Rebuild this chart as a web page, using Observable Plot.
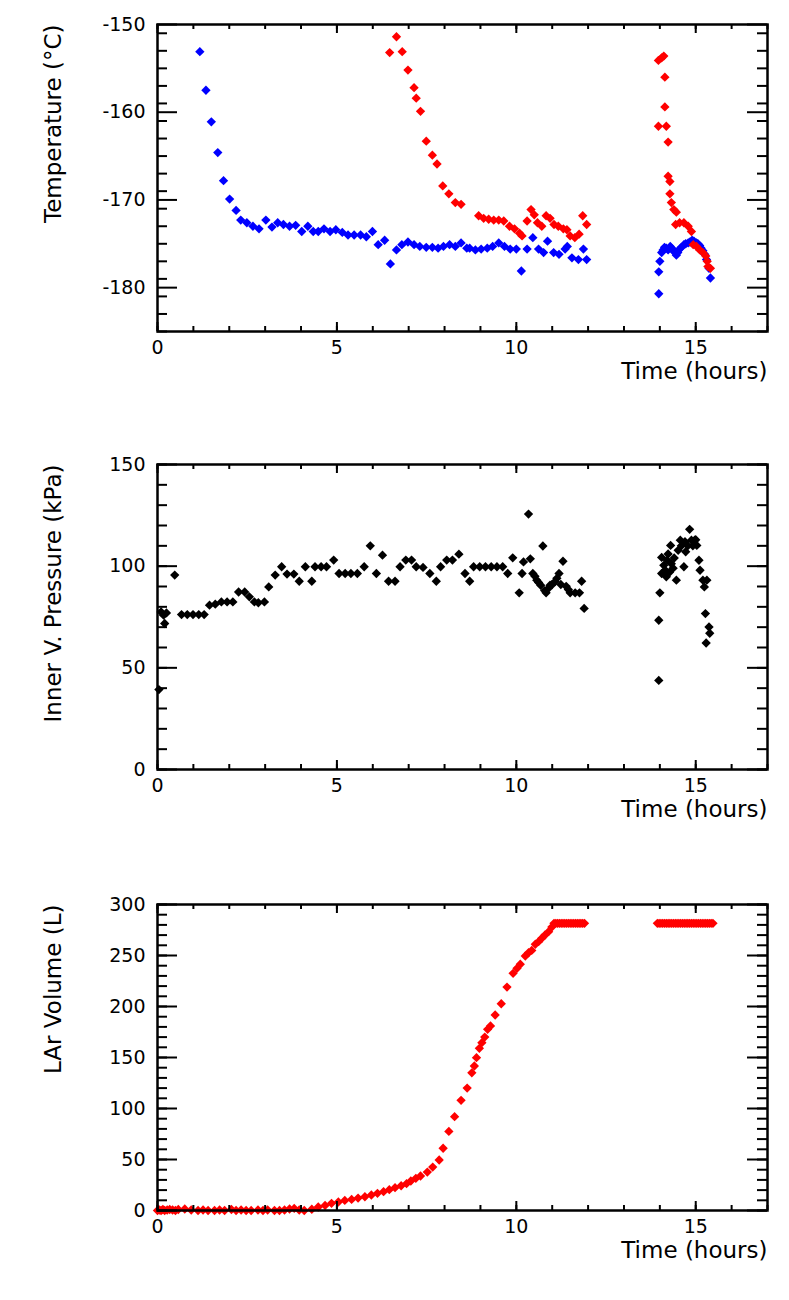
<!DOCTYPE html>
<html><head><meta charset="utf-8">
<script src="https://cdn.jsdelivr.net/npm/d3@7"></script>
<script src="https://cdn.jsdelivr.net/npm/@observablehq/plot@0.6"></script>
<style>
body{margin:0;background:#fff}
#chart svg{display:block}
</style>
</head><body><div id="chart"></div>
<script>
// ---------- Panel 1: temperature ----------
const blueTime = [1.18,1.35,1.50,1.68,1.84,2.01,2.19,2.32,2.49,2.66,2.83,3.02,3.19,3.35,3.51,3.68,3.85,4.02,4.19,4.34,4.48,4.64,4.81,4.97,5.15,5.31,5.48,5.66,5.82,5.99,6.15,6.33,6.49,6.66,6.81,6.98,7.15,7.31,7.49,7.66,7.82,7.97,8.14,8.30,8.46,8.62,8.70,8.86,9.02,9.19,9.34,9.51,9.67,9.83,10.0,10.14,10.30,10.46,10.62,10.76,10.87,11.04,11.19,11.36,11.42,11.55,11.73,11.87,11.96,
  13.97,13.97,14.0,14.05,14.09,14.13,14.18,14.23,14.29,14.33,14.37,14.42,14.46,14.5,14.55,14.6,14.67,14.72,14.79,14.84,14.90,14.95,15.02,15.06,15.11,15.15,15.20,15.25,15.30,15.37,15.41];
const blueTemp = [-153.1,-157.5,-161.1,-164.6,-167.8,-169.9,-171.2,-172.3,-172.6,-173.0,-173.3,-172.3,-173.1,-172.6,-172.8,-173.0,-172.9,-173.6,-173.0,-173.6,-173.6,-173.3,-173.6,-173.4,-173.7,-174.0,-174.0,-174.0,-174.2,-173.6,-175.1,-174.6,-177.3,-175.7,-175.1,-174.8,-175.1,-175.3,-175.4,-175.4,-175.5,-175.3,-175.1,-175.3,-174.9,-175.5,-175.5,-175.7,-175.6,-175.5,-175.3,-174.9,-175.3,-175.6,-175.6,-178.1,-175.6,-174.3,-175.6,-176.0,-174.7,-176.0,-176.2,-175.6,-175.3,-176.6,-176.8,-175.6,-176.8,
  -180.7,-178.2,-177.0,-176.0,-175.7,-175.4,-175.5,-175.7,-175.3,-175.5,-175.8,-175.9,-176.3,-176.0,-175.6,-175.4,-175.1,-175.0,-174.9,-174.8,-174.6,-174.7,-174.9,-175.0,-175.2,-175.5,-175.8,-176.2,-176.8,-177.8,-178.9];
const redTime = [6.47,6.66,6.82,6.98,7.15,7.21,7.33,7.49,7.66,7.79,7.95,8.12,8.30,8.46,8.95,9.09,9.23,9.37,9.51,9.65,9.81,9.95,10.09,10.16,10.30,10.41,10.50,10.59,10.71,10.83,10.94,11.05,11.17,11.31,11.41,11.50,11.63,11.75,11.85,11.96,
  13.96,14.05,14.11,14.14,14.14,13.96,14.18,14.23,14.23,14.28,14.28,14.32,14.39,14.46,14.44,14.55,14.67,14.79,14.88,14.93,15.02,15.11,15.20,15.28,15.32,15.34,15.41];
const redTemp = [-153.2,-151.4,-153.1,-155.2,-157.2,-158.4,-159.9,-163.3,-164.9,-165.9,-168.4,-169.3,-170.3,-170.5,-171.8,-172.1,-172.2,-172.3,-172.3,-172.4,-173.0,-173.3,-173.8,-174.1,-172.4,-171.1,-171.7,-172.6,-173.0,-171.8,-172.1,-172.8,-173.0,-173.3,-173.4,-174.1,-174.3,-173.9,-171.8,-172.8,
  -154.1,-153.8,-153.6,-156.0,-159.4,-161.6,-161.6,-163.4,-167.3,-167.9,-169.3,-170.3,-171.1,-171.4,-172.8,-172.6,-172.6,-173.0,-173.6,-175.1,-175.3,-175.7,-176.0,-176.4,-177.0,-177.6,-177.8];
const tempTicks = [-150,-160,-170,-180];

// ---------- Panel 2: inner vessel pressure ----------
const pressTime = [0.04,0.10,0.17,0.20,0.25,0.48,0.67,0.83,0.99,1.15,1.30,1.45,1.61,1.78,1.94,2.10,2.26,2.43,2.56,2.70,2.81,2.98,3.10,3.28,3.46,3.61,3.80,3.95,4.12,4.30,4.39,4.56,4.71,4.91,5.06,5.23,5.39,5.57,5.76,5.93,6.10,6.27,6.44,6.62,6.76,6.92,7.08,7.21,7.40,7.59,7.77,7.89,8.06,8.22,8.40,8.57,8.70,8.81,8.98,9.14,9.30,9.46,9.62,9.76,9.90,10.08,10.16,10.20,10.34,10.39,10.46,10.52,10.57,10.62,10.68,10.74,10.79,10.83,10.89,10.94,11.0,11.08,11.13,11.19,11.24,11.30,11.39,11.45,11.50,11.64,11.76,11.82,11.89,
  13.97,13.97,14.0,14.05,14.05,14.11,14.15,14.18,14.2,14.23,14.27,14.30,14.32,14.37,14.4,14.46,14.51,14.57,14.6,14.67,14.7,14.72,14.78,14.83,14.88,14.92,14.97,15.0,15.03,15.09,15.12,15.20,15.24,15.27,15.29,15.31,15.37,15.39];
const pressVal = [39.3,77.5,75.9,71.8,77.0,95.6,76.2,76.2,76.2,76.2,76.2,80.8,81.3,82.4,82.4,82.4,87.3,87.3,84.9,82.4,82.0,82.4,89.8,95.6,99.7,96.1,96.1,92.6,99.7,92.6,99.7,99.7,99.7,103.0,96.4,96.4,96.4,96.4,99.7,110.0,96.4,105.4,92.6,92.6,99.7,103.0,103.0,99.7,99.4,96.4,92.6,99.7,103.0,103.0,105.9,96.4,92.6,99.7,99.7,99.7,99.7,99.7,99.7,96.4,104.1,86.9,96.4,102.1,125.6,103.6,96.4,95.0,93.1,92.0,90.6,109.9,88.0,86.9,89.0,90.6,91.0,92.4,94.0,96.4,91.0,102.4,90.1,88.5,86.9,86.9,86.9,92.6,79.2,
  43.8,73.4,86.9,96.4,104.3,100.4,98.0,94.8,103.0,106.0,97.0,110.2,101.2,99.0,104.0,93.1,107.8,112.8,110.0,99.7,112.0,107.1,110.0,118.1,112.8,110.0,112.8,113.0,110.2,102.9,98.0,93.1,89.8,76.7,62.2,93.1,70.1,67.0];
const pressTicks = [0,50,100,150];

// ---------- Panel 3: LAr volume ----------
const volTime = [0.0,0.05,0.1,0.15,0.2,0.27,0.34,0.42,0.5,0.58,0.76,0.94,1.13,1.27,1.41,1.59,1.73,1.87,2.06,2.19,2.33,2.47,2.61,2.80,2.94,3.07,3.26,3.40,3.54,3.68,3.81,3.95,4.09,
  4.30,4.48,4.67,4.85,5.04,5.22,5.41,5.59,5.78,5.96,6.13,6.30,6.46,6.62,6.79,6.94,7.06,7.20,7.33,7.52,7.67,7.85,7.96,8.12,8.28,8.46,8.63,8.76,8.83,8.89,8.97,9.04,9.12,9.20,9.28,9.41,9.58,9.74,9.91,10.02,10.11,10.25,10.34,10.43,10.53,10.62,10.71,10.80,10.90,10.99,11.05,
  11.10,11.15,11.20,11.25,11.30,11.35,11.40,11.45,11.50,11.55,11.60,11.65,11.70,11.75,11.80,11.85,11.90,
  13.93,13.98,14.03,14.08,14.13,14.18,14.23,14.28,14.33,14.38,14.43,14.48,14.53,14.58,14.63,14.68,14.73,14.78,14.83,14.88,14.93,14.98,15.03,15.08,15.13,15.18,15.23,15.28,15.33,15.38,15.43,15.48];
const volVal = [0,0.5,0,1,0,0.5,1,0.5,0,1,1.5,0.5,0,0.5,0,0,0.5,0,1,0,0.5,0,0,0.5,0,0.5,0,0,0.5,1.5,2,0.5,0,
  1.2,3.4,5.0,7.0,8.3,9.9,10.9,12.2,13.5,15.2,16.8,18.5,20.4,22.4,24.3,26.3,28.9,31.5,33.8,37.7,42.6,49.5,61.0,77.5,92.0,108.0,120.0,135.0,141.7,149.8,159.0,164.5,170.0,177.6,181.0,191.7,202.7,219.0,232.5,237.4,241.4,249.5,252.7,255.0,261.0,263.6,266.9,270.1,273.4,277.9,281.5,
  281.5,281.5,281.5,281.5,281.5,281.5,281.5,281.5,281.5,281.5,281.5,281.5,281.5,281.5,281.5,281.5,281.5,
  281.5,281.5,281.5,281.5,281.5,281.5,281.5,281.5,281.5,281.5,281.5,281.5,281.5,281.5,281.5,281.5,281.5,281.5,281.5,281.5,281.5,281.5,281.5,281.5,281.5,281.5,281.5,281.5,281.5,281.5,281.5,281.5];
const volTicks = [0,50,100,150,200,250,300];

const timeTicks = [0,5,10,15];
const timeLabel = "Time (hours)";

const W = 789, ML = 157, MR = 22, MT = 24;

function panel({height, marginBottom, yDomain, yMajor, yMinorStep, ylabel, marks}) {
  const innerH = height - MT - marginBottom;
  const innerW = W - ML - MR;
  const xMinor = d3.range(0, 17.0001, 1);
  const yMinor = d3.range(yDomain[0], yDomain[1] + 1e-6, yMinorStep);
  return Plot.plot({
    width: W, height, marginLeft: ML, marginRight: MR, marginTop: MT, marginBottom,
    style: {fontFamily: "DejaVu Sans", fontSize: "19px", background: "#fff", color: "#000"},
    x: {domain: [0, 17]},
    y: {domain: yDomain},
    marks: [
      ...marks,
      Plot.tickX(xMinor, {x: d => d, insetTop: innerH - 5, strokeWidth: 2}),
      Plot.tickX(xMinor, {x: d => d, insetBottom: innerH - 5, strokeWidth: 2}),
      Plot.tickX(timeTicks, {x: d => d, insetTop: innerH - 9, strokeWidth: 2}),
      Plot.tickX(timeTicks, {x: d => d, insetBottom: innerH - 9, strokeWidth: 2}),
      Plot.tickY(yMinor, {y: d => d, insetRight: innerW - 10, strokeWidth: 2}),
      Plot.tickY(yMinor, {y: d => d, insetLeft: innerW - 10, strokeWidth: 2}),
      Plot.tickY(yMajor, {y: d => d, insetRight: innerW - 20, strokeWidth: 2}),
      Plot.tickY(yMajor, {y: d => d, insetLeft: innerW - 20, strokeWidth: 2}),
      Plot.frame({strokeWidth: 2.5}),
      Plot.axisX(timeTicks, {tickSize: 0, tickPadding: 9, label: null, tickFormat: d => String(d)}),
      Plot.axisY(yMajor, {tickSize: 0, tickPadding: 12, label: null, tickFormat: d => String(d)}),
      Plot.text([ylabel], {text: d => d, frameAnchor: "top-left", rotate: -90, textAnchor: "end", dx: -113, fontSize: 23}),
      Plot.text([timeLabel], {text: d => d, frameAnchor: "bottom-right", textAnchor: "end", dy: 47, fontSize: 23})
    ]
  });
}

const dotOpts = {symbol: "diamond2", r: 4.2, stroke: "none"};

const p1 = panel({
  height: 440, marginBottom: 109, yDomain: [-185, -150], yMajor: tempTicks, yMinorStep: 2,
  ylabel: "Temperature (°C)",
  marks: [
    Plot.dot(blueTime, {x: blueTime, y: blueTemp, fill: "#0000ff", ...dotOpts}),
    Plot.dot(redTime, {x: redTime, y: redTemp, fill: "#ff0000", ...dotOpts})
  ]
});
const p2 = panel({
  height: 440, marginBottom: 111, yDomain: [0, 150], yMajor: pressTicks, yMinorStep: 10,
  ylabel: "Inner V. Pressure (kPa)",
  marks: [
    Plot.dot(pressTime, {x: pressTime, y: pressVal, fill: "#000000", ...dotOpts})
  ]
});
const p3 = panel({
  height: 420, marginBottom: 90, yDomain: [0, 300], yMajor: volTicks, yMinorStep: 10,
  ylabel: "LAr Volume (L)",
  marks: [
    Plot.dot(volTime, {x: volTime, y: volVal, fill: "#ff0000", ...dotOpts})
  ]
});
const root = document.getElementById("chart");
root.append(p1, p2, p3);
</script>
</body></html>
